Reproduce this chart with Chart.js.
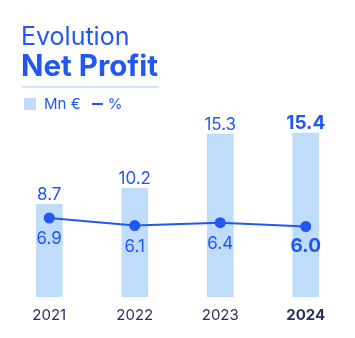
<!DOCTYPE html>
<html>
<head>
<meta charset="utf-8">
<script src="https://cdn.jsdelivr.net/npm/chart.js@4.4.1/dist/chart.umd.min.js"></script>
<style>
  html, body { margin: 0; padding: 0; background: #fff; }
  body { font-family: Inter, "Noto Sans", sans-serif; }
  #wrap { position: relative; width: 355px; height: 338px; overflow: hidden; }
  #wrap canvas { position: absolute; left: 0; top: 0; }
  .t1 { position: absolute; left: 21px; top: 21px; font-size: 25px; line-height: 30px; color: #2157f3; font-weight: 400; }
  .t2 { position: absolute; left: 21px; top: 48px; font-size: 29.5px; line-height: 34px; color: #2157f3; font-weight: 700; }
  .sep { position: absolute; left: 22px; top: 86px; width: 137px; height: 2px; background: #d3e5fb; }
  .legend { position: absolute; left: 24px; top: 95px; font-size: 15px; line-height: 18px; color: #2157f3; display: flex; align-items: center; }
  .legend .sq { width: 12px; height: 12px; background: #bfdcfb; margin-right: 8px; }
  .legend .ln { width: 11px; height: 2px; background: #2157f3; margin: 0 5px 0 11px; }
</style>
</head>
<body>
<div id="wrap">
  <canvas id="chart" width="355" height="338"></canvas>
  <div class="t1">Evolution</div>
  <div class="t2">Net Profit</div>
  <div class="sep"></div>
  <div class="legend"><span class="sq"></span><span>Mn €</span><span class="ln"></span><span>%</span></div>
</div>
<script>
const years = ['2021', '2022', '2023', '2024'];
const profitMn = [8.7, 10.2, 15.3, 15.4];
const marginPct = [6.9, 6.1, 6.4, 6.0];

const BLUE = '#2157f3';
const LIGHT = '#bfdcfb';
const NAVY = '#2b2f5c';
const FONT = 'Inter, "Noto Sans", sans-serif';
const fmt = (n) => n.toFixed(1);

// draws value labels above bars and under line points
const valueLabels = {
  id: 'valueLabels',
  afterDatasetsDraw(chart) {
    const ctx = chart.ctx;
    ctx.save();
    ctx.fillStyle = BLUE;
    ctx.textAlign = 'center';
    ctx.textBaseline = 'alphabetic';
    chart.getDatasetMeta(1).data.forEach((el, i) => {
      const last = i === profitMn.length - 1;
      ctx.font = (last ? '700 19px ' : '400 17px ') + FONT;
      ctx.fillText(fmt(profitMn[i]), el.x, el.y - 4);
    });
    chart.getDatasetMeta(0).data.forEach((el, i) => {
      const last = i === marginPct.length - 1;
      ctx.font = (last ? '700 19px ' : '400 17px ') + FONT;
      ctx.fillText(fmt(marginPct[i]), el.x, el.y + 26);
    });
    ctx.restore();
  }
};

new Chart(document.getElementById('chart'), {
  data: {
    labels: years,
    datasets: [
      {
        type: 'line', label: '%', data: marginPct, yAxisID: 'y2', order: 0,
        borderColor: BLUE, backgroundColor: BLUE, borderWidth: 2,
        pointRadius: 4.5, pointHoverRadius: 4.5, tension: 0
      },
      {
        type: 'bar', label: 'Mn €', data: profitMn, yAxisID: 'y', order: 1,
        backgroundColor: LIGHT, borderWidth: 0, barThickness: 26
      }
    ]
  },
  options: {
    responsive: false,
    animation: false,
    events: [],
    layout: { padding: { left: 3, right: 6, top: 100, bottom: 5 } },
    plugins: { legend: { display: false }, tooltip: { enabled: false } },
    scales: {
      x: {
        grid: { display: false, drawTicks: false },
        border: { display: false },
        ticks: {
          padding: 9,
          color: NAVY,
          font: (c) => ({ family: FONT, size: 15, weight: c.index === years.length - 1 ? '700' : '400' })
        }
      },
      y: { display: false, min: 0, max: 18.5 },
      y2: { display: false, min: -1.47, max: 19.4 }
    }
  },
  plugins: [valueLabels]
});
</script>
</body>
</html>
